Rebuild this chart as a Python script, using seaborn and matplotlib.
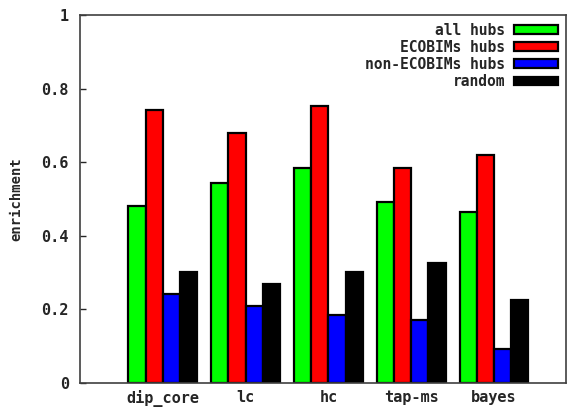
import matplotlib
matplotlib.use('Agg')
import matplotlib.pyplot as plt
import pandas as pd
import seaborn as sns

datasets = ['dip_core', 'lc', 'hc', 'tap-ms', 'bayes']
series = ['all hubs', 'ECOBIMs hubs', 'non-ECOBIMs hubs', 'random']
all_hubs = [0.482, 0.544, 0.583, 0.493, 0.466]
ecobims_hubs = [0.743, 0.680, 0.752, 0.583, 0.619]
non_ecobims_hubs = [0.242, 0.210, 0.185, 0.172, 0.093]
random_hubs = [0.302, 0.269, 0.302, 0.327, 0.226]
colors = ['#00ff00', '#ff0000', '#0000ff', '#000000']

rows = []
for name, vals in zip(series, [all_hubs, ecobims_hubs, non_ecobims_hubs, random_hubs]):
    for d, v in zip(datasets, vals):
        rows.append({'dataset': d, 'series': name, 'enrichment': v})
df = pd.DataFrame(rows)

sns.set_style('white')
plt.rcParams['font.family'] = ['DejaVu Sans Mono']
plt.rcParams['font.weight'] = 'bold'

fig = plt.figure(figsize=(5.67, 4.08), dpi=100)
ax = fig.add_axes([80 / 567, 25 / 408, 486 / 567, 368 / 408])
sns.barplot(data=df, x='dataset', y='enrichment', hue='series', order=datasets,
            hue_order=series, palette=colors, width=0.83, gap=0,
            edgecolor='black', linewidth=1.6, saturation=1, ax=ax)

ax.set_xlim(-1, 4.87)
ax.set_ylim(0, 1)
ax.set_yticks([0, 0.2, 0.4, 0.6, 0.8, 1])
ax.set_yticklabels(['0', '0.2', '0.4', '0.6', '0.8', '1'])
ax.set_xlabel('')
ax.set_ylabel('enrichment', fontsize=10, fontweight='bold', labelpad=13)
ax.tick_params(axis='y', direction='in', length=4, width=1, left=True, labelsize=11, pad=8)
ax.tick_params(axis='x', length=0, labelsize=11, pad=5)
for s in ax.spines.values():
    s.set_color('#404040')
    s.set_linewidth(1.2)

leg = ax.legend(loc='upper right', frameon=False, markerfirst=False, fontsize=10.5,
                handlelength=3.0, handleheight=0.55, labelspacing=0.15,
                handletextpad=0.6, borderaxespad=0.0, bbox_to_anchor=(0.995, 0.995))
for h in leg.legend_handles:
    h.set_edgecolor('black')
    h.set_linewidth(1.6)

fig.savefig('out.png', dpi=100)
